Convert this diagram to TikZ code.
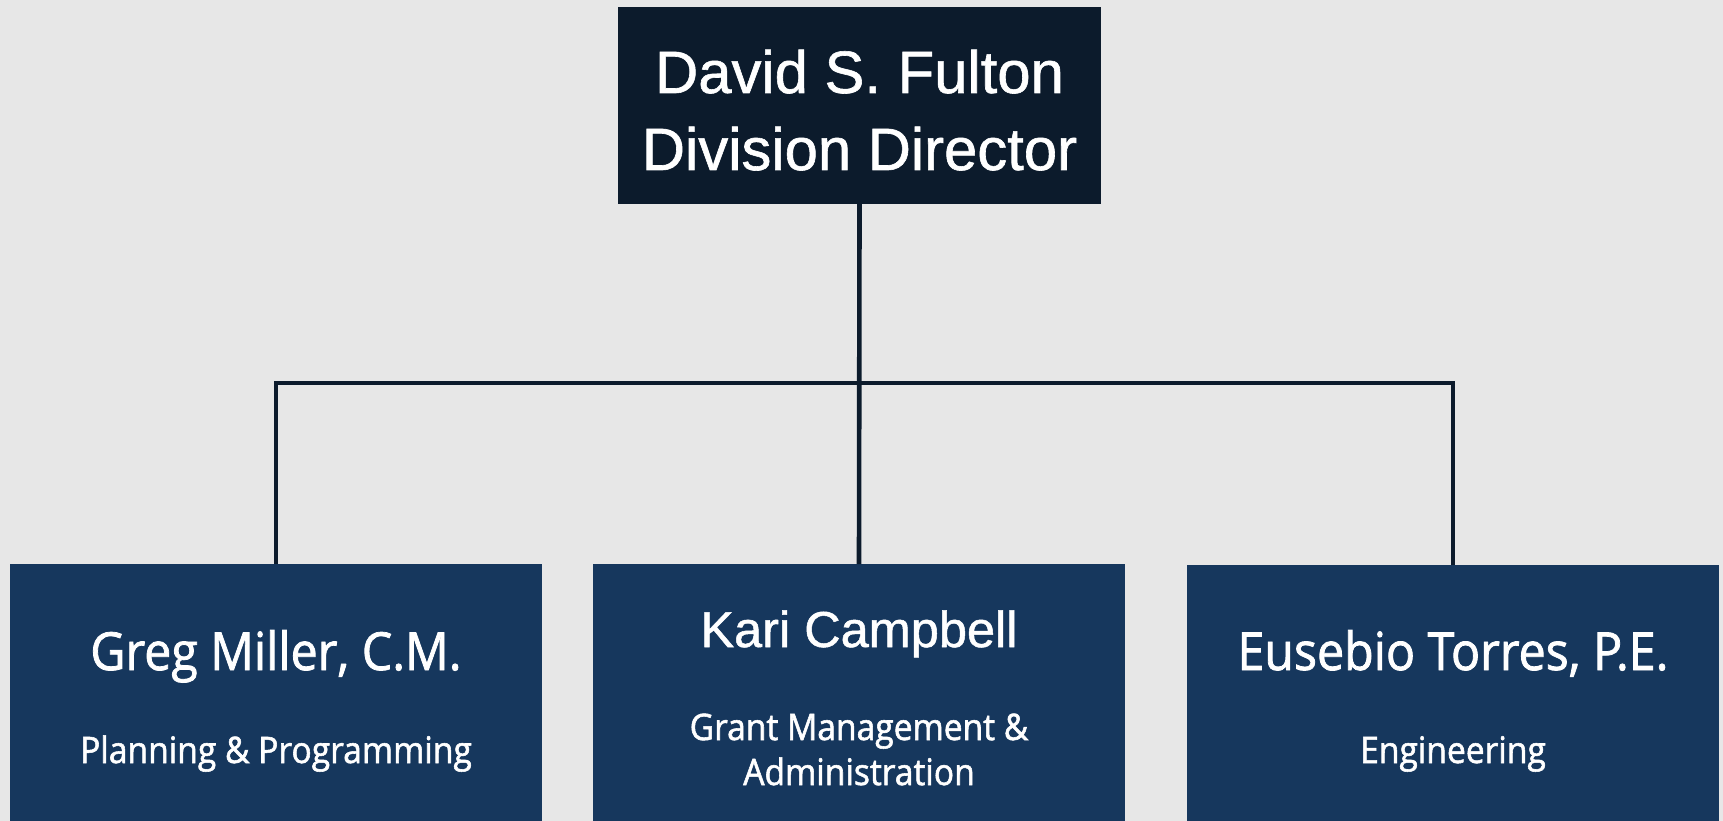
\documentclass[tikz,border=0pt]{standalone}
\usepackage{fontspec}
\setmainfont{Liberation Sans}[FakeBold=0.8]
\newfontfamily\arialb{Liberation Sans}[FakeBold=1.0]
\newfontfamily\frank{Open Sans}[FakeStretch=0.92,FakeBold=1.5]
\definecolor{bgc}{HTML}{E7E7E7}
\definecolor{topc}{HTML}{0C1B2C}
\definecolor{subc}{HTML}{16375D}
\definecolor{linec}{HTML}{0C1B2C}
\begin{document}
\begin{tikzpicture}[x=1pt,y=-1pt,
  topbox/.style={fill=topc,draw=none,inner sep=0pt,outer sep=0pt,anchor=north west,minimum width=483pt,minimum height=197pt},
  subbox/.style={fill=subc,draw=none,inner sep=0pt,outer sep=0pt,anchor=north west,minimum width=532pt,minimum height=257pt},
  toptext/.style={text=white,inner sep=0pt,anchor=base,font=\arialb\fontsize{59.8}{70}\selectfont},
  nametext/.style={text=white,inner sep=0pt,anchor=base,font=\frank\fontsize{52.5}{62}\selectfont},
  kartext/.style={text=white,inner sep=0pt,anchor=base,font=\arialb\fontsize{50.5}{60}\selectfont},
  roletext/.style={text=white,inner sep=0pt,anchor=base,font=\frank\fontsize{36.5}{44}\selectfont},
  conn/.style={draw=linec,line width=4.6pt}]
\fill[bgc] (0,0) rectangle (1723,821);
\useasboundingbox (0,0) rectangle (1723,821);

\node[topbox] (dir) at (618,7) {};
\node[subbox] (greg) at (10,564) {};
\node[subbox] (kari) at (593,564) {};
\node[subbox] (eus) at (1187,565) {};

\coordinate (bus) at (859.5,383);
\draw[conn] (dir.south) -- (kari.north);
\draw[conn] (greg.north) |- (bus) -| (eus.north);

\node[toptext] (dirname) at (859.5,93) {David S. Fulton};
\node[toptext] (dirrole) at (859.5,170) {Division Director};

\node[nametext] (gregname) at (276,670) {Greg Miller, C.M.};
\node[roletext] (gregrole) at (276,763) {Planning \& Programming};

\node[kartext] (kariname) at (859,647) {Kari Campbell};
\node[roletext] (karirole1) at (859,740) {Grant Management \&};
\node[roletext] (karirole2) at (859,785) {Administration};

\node[nametext] (eusname) at (1453,670) {Eusebio Torres, P.E.};
\node[roletext] (eusrole) at (1453,763) {Engineering};
\end{tikzpicture}
\end{document}
